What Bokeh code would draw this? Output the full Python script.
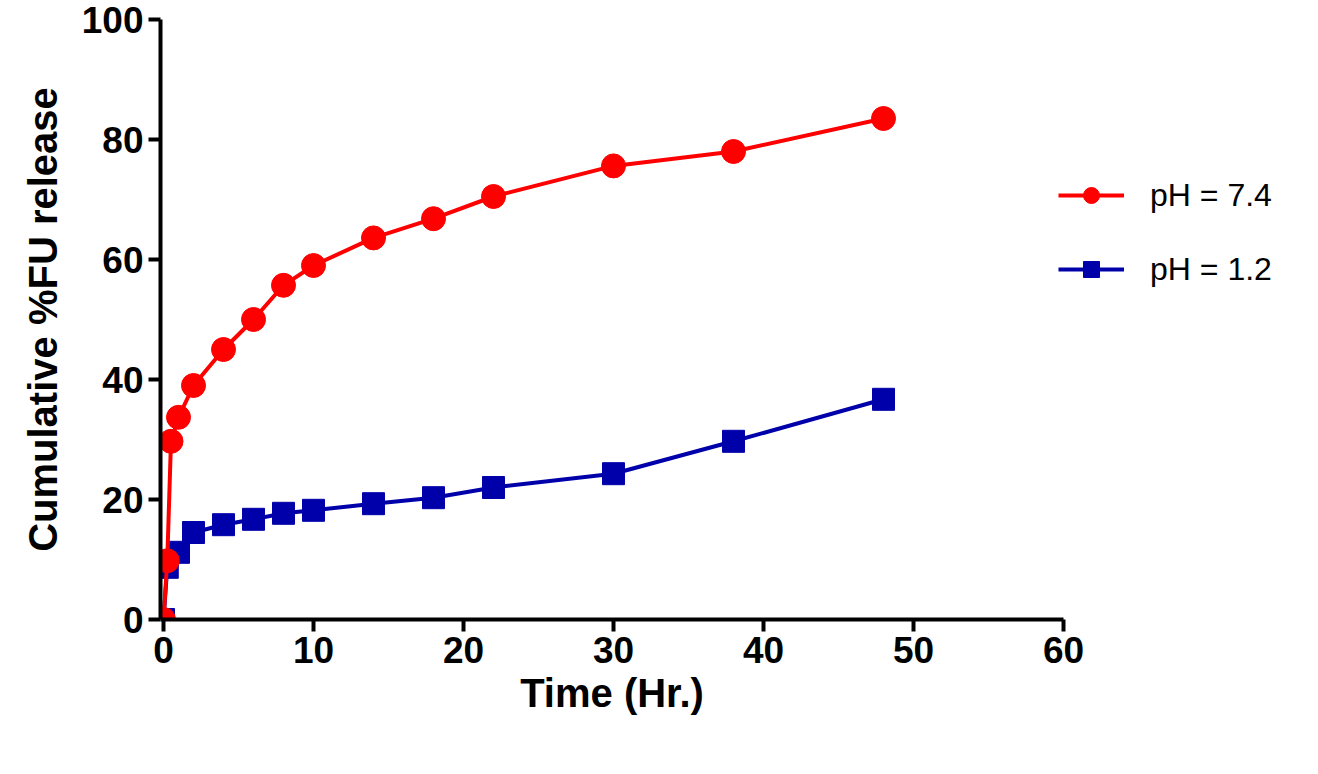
from bokeh.plotting import figure
from bokeh.models import Legend, LegendItem, Range1d, FixedTicker
from bokeh.embed import file_html
from bokeh.resources import INLINE

t_74 = [0, 0.25, 0.5, 1, 2, 4, 6, 8, 10, 14, 18, 22, 30, 38, 48]
r_74 = [0, 9.8, 29.7, 33.7, 39, 45, 50, 55.7, 59, 63.6, 66.8, 70.5, 75.6, 78, 83.5]
t_12 = [0, 0.25, 1, 2, 4, 6, 8, 10, 14, 18, 22, 30, 38, 48]
r_12 = [0, 8.7, 11.2, 14.5, 15.8, 16.7, 17.7, 18.2, 19.3, 20.3, 22, 24.3, 29.7, 36.7]

p = figure(frame_width=903, frame_height=600, output_backend="svg", toolbar_location=None,
           x_range=Range1d(-0.2, 60), y_range=Range1d(0, 100),
           min_border_left=160, min_border_top=19, min_border_bottom=5, min_border_right=5)
p.grid.visible = False
p.outline_line_color = None
p.xaxis.ticker = FixedTicker(ticks=[0, 10, 20, 30, 40, 50, 60])
p.yaxis.ticker = FixedTicker(ticks=[0, 20, 40, 60, 80, 100])
for ax in (p.xaxis, p.yaxis):
    ax.axis_line_width = 4
    ax.major_tick_line_width = 4
    ax.major_tick_out = 12
    ax.major_tick_in = 0
    ax.minor_tick_line_color = None
    ax.major_label_text_font = "Liberation Sans"
    ax.major_label_text_font_style = "bold"
    ax.major_label_text_font_size = "37px"
    ax.major_label_text_color = "black"
    ax.axis_label_text_font = "Liberation Sans"
    ax.axis_label_text_font_style = "bold"
    ax.axis_label_text_font_size = "40px"
    ax.axis_label_text_color = "black"
p.xaxis.axis_label = "Time (Hr.)"
p.yaxis.axis_label = "Cumulative %FU release"
p.yaxis.axis_label_standoff = 14

l1 = p.line(t_74, r_74, line_color="#ff0000", line_width=4)
s1 = p.scatter(t_74, r_74, marker="circle", size=24, fill_color="#ff0000", line_color="#ff0000")
l2 = p.line(t_12, r_12, line_color="#0000aa", line_width=4)
s2 = p.scatter(t_12, r_12, marker="square", size=22, fill_color="#0000aa", line_color="#0000aa")
p.renderers.remove(l1); p.renderers.remove(s1)
p.renderers.extend([l1, s1])

legend = Legend(items=[LegendItem(label="pH = 7.4", renderers=[l1, s1]),
                       LegendItem(label="pH = 1.2", renderers=[l2, s2])],
                label_text_font="Liberation Sans", label_text_font_size="32px",
                label_text_color="black",
                glyph_width=66, glyph_height=40, label_standoff=26, spacing=34,
                border_line_color=None, margin=0, padding=0)
legend.location = (-5, 330)
p.add_layout(legend, "right")

open("out.html", "w").write(file_html(p, INLINE))
